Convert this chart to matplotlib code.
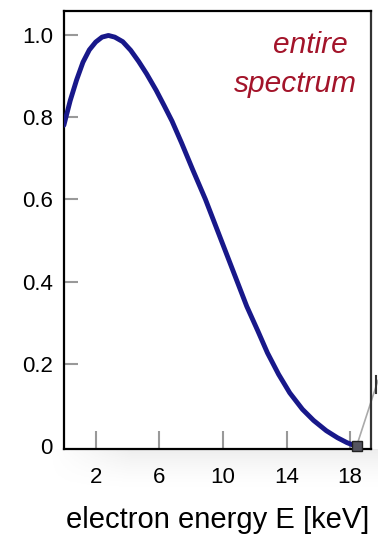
import numpy as np
import matplotlib
matplotlib.use("Agg")
import matplotlib.pyplot as plt

plt.rcParams['font.family'] = ['Liberation Sans', 'DejaVu Sans']

# spectrum
energy = [0.0, 0.4, 0.8, 1.2, 1.6, 2.0, 2.4, 2.8, 3.2, 3.7, 4.2, 4.7, 5.2, 5.8, 6.3, 6.8,
          7.4, 8.1, 8.9, 9.6, 10.3, 11.0, 11.5, 12.2, 12.8, 13.5, 14.2, 15.0, 15.7,
          16.5, 17.2, 17.8, 18.4]
intensity = [0.78, 0.84, 0.89, 0.933, 0.963, 0.982, 0.994, 0.998, 0.994, 0.983, 0.962, 0.935,
             0.905, 0.865, 0.828, 0.79, 0.737, 0.672, 0.60, 0.53, 0.46, 0.39, 0.34, 0.28,
             0.227, 0.175, 0.13, 0.09, 0.063, 0.038, 0.021, 0.009, 0.0]

xticks = [2, 6, 10, 14, 18]
yticks = [0, 0.2, 0.4, 0.6, 0.8, 1.0]
ylabels = ['0', '0.2', '0.4', '0.6', '0.8', '1.0']
endpoint = (18.4, 0.0)

fig = plt.figure(figsize=(3.78, 5.38), dpi=100)

# soft grey shadow under the x axis, fading down and to the left
sh = fig.add_axes([0.13, 0.09, 0.87, 0.075])
vfade = np.linspace(1, 0, 60)[:, None] ** 1.5
hfade = np.clip(np.linspace(0, 4, 300), 0, 1)[None, :]
sh.imshow(vfade * hfade, aspect='auto', cmap='Greys', vmin=0, vmax=7,
          extent=[0, 1, 0, 1], origin='upper')
sh.axis('off')

ax = fig.add_axes([0.169, 0.165, 0.812, 0.815])

ax.plot(energy, intensity, color='#18188a', lw=3.5, solid_capstyle='round', zorder=3)
ax.plot(*endpoint, marker='s', ms=6.5, mfc='#555560', mec='#222222', mew=1, zorder=4, clip_on=False)
# leader line to the (cropped) inset on the right
ax.plot([endpoint[0], 19.75], [endpoint[1], 0.16], color='#aaaaaa', lw=1.2, clip_on=False, zorder=2)
ax.plot([19.6, 19.6], [0.13, 0.17], color='#333333', lw=1.5, clip_on=False, zorder=2)

ax.set_xlim(0, 19.3)
ax.set_ylim(-0.007, 1.058)
ax.set_xticks(xticks)
ax.set_yticks(yticks)
ax.set_yticklabels(ylabels)
ax.tick_params(axis='x', direction='in', length=13, width=1.5, color='#999999', pad=13, labelsize=16)
ax.tick_params(axis='y', direction='in', length=10, width=1.5, color='#999999', pad=8, labelsize=16)
ax.yaxis.get_major_ticks()[0].tick1line.set_visible(False)

for s in ax.spines.values():
    s.set_linewidth(1.6)
    s.set_color('black')
ax.spines['right'].set_color('#333333')

ax.text(0.925, 0.904, 'entire', transform=ax.transAxes, ha='right', va='baseline',
        fontsize=21.5, style='italic', color='#a3142a')
ax.text(0.954, 0.815, 'spectrum', transform=ax.transAxes, ha='right', va='baseline',
        fontsize=21.5, style='italic', color='#a3142a')

ax.set_xlabel('electron energy E [keV]', fontsize=21, labelpad=13)

fig.savefig('out.png', dpi=100)
